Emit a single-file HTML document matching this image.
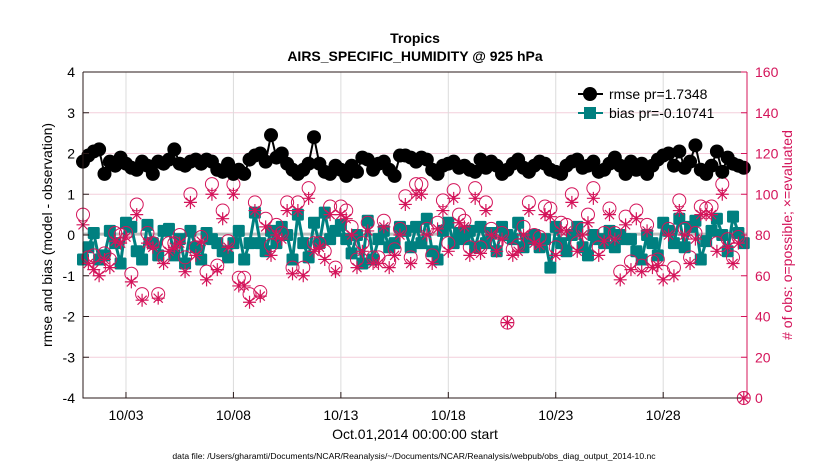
<!DOCTYPE html>
<html><head><meta charset="utf-8"><style>
body{margin:0;background:#fff;}
svg{display:block;font-family:"Liberation Sans",Arial,sans-serif;}
</style></head><body>
<svg id="chart" width="830" height="470" viewBox="0 0 830 470">
<rect width="830" height="470" fill="#fff"/>
<g id="grid"></g>
<g id="series"></g>
<g id="axes"></g>
<text x="415" y="43" text-anchor="middle" font-size="14" font-weight="bold">Tropics</text>
<text x="415" y="61" text-anchor="middle" font-size="14" font-weight="bold">AIRS_SPECIFIC_HUMIDITY @ 925 hPa</text>
<text transform="translate(52,235) rotate(-90)" text-anchor="middle" font-size="14">rmse and bias (model - observation)</text>
<text transform="translate(792,235) rotate(-90)" text-anchor="middle" font-size="14" fill="#d4145a"># of obs: o=possible; ×=evaluated</text>
<text x="415" y="439" text-anchor="middle" font-size="14">Oct.01,2014 00:00:00 start</text>
<text x="414" y="459" text-anchor="middle" font-size="8.6">data file: /Users/gharamti/Documents/NCAR/Reanalysis/~/Documents/NCAR/Reanalysis/webpub/obs_diag_output_2014-10.nc</text>
<g id="legend">
<line x1="578" y1="94" x2="603" y2="94" stroke="#000" stroke-width="2"/>
<circle cx="590" cy="94" r="7" fill="#000"/>
<text x="609" y="99" font-size="14">rmse pr=1.7348</text>
<line x1="578" y1="113" x2="603" y2="113" stroke="#008080" stroke-width="2"/>
<rect x="584" y="107" width="12" height="12" fill="#008080"/>
<text x="609" y="118" font-size="14">bias pr=-0.10741</text>
</g>
</svg>
<script>
const rmse=[1.8,1.95,2.05,2.1,1.5,1.8,1.7,1.9,1.75,1.65,1.6,1.8,1.7,1.5,1.8,1.75,1.85,2.1,1.75,1.7,1.8,1.85,1.75,1.85,1.8,1.6,1.55,1.75,1.5,1.6,1.5,1.85,1.95,2.0,1.8,2.45,1.9,2.0,1.75,1.6,1.5,1.6,1.75,2.4,1.75,1.55,1.5,1.7,1.6,1.45,1.7,1.55,1.9,1.85,1.6,1.75,1.8,1.6,1.45,1.95,1.95,1.9,1.8,1.9,1.85,1.6,1.5,1.7,1.75,1.8,1.65,1.7,1.6,1.55,1.85,1.65,1.8,1.7,1.5,1.6,1.75,1.85,1.65,1.55,1.7,1.8,1.75,1.6,1.55,1.5,1.7,1.8,1.85,1.65,1.7,1.8,1.55,1.6,1.75,1.9,1.7,1.5,1.8,1.6,1.75,1.5,1.7,1.85,1.95,2.0,1.7,2.05,1.65,1.8,2.2,1.6,1.5,1.7,2.05,1.55,1.9,1.75,1.7,1.65];
const bias=[-0.6,-0.3,0.05,-0.6,-0.5,0.1,-0.2,-0.7,0.3,0.2,-0.4,-0.6,0.25,-0.2,-0.5,0.1,0.15,-0.5,-0.1,-0.7,0.1,-0.3,-0.6,0.05,-0.1,-0.2,-0.4,-0.55,-0.2,0.1,-0.6,-0.2,0.55,-0.2,-0.4,0.1,-0.2,0.2,0.0,-0.6,0.5,-0.2,-0.55,0.3,-0.2,0.55,-0.1,0.1,0.25,-0.1,-0.45,0.0,-0.7,0.35,-0.6,-0.1,0.1,-0.3,-0.2,0.2,0.1,-0.3,0.2,-0.2,0.4,-0.4,-0.6,0.1,0.3,-0.2,0.05,-0.1,0.1,-0.3,0.2,-0.2,0.05,-0.4,0.2,0.0,-0.1,0.3,-0.3,-0.1,0.0,-0.3,-0.1,-0.8,0.2,-0.2,-0.4,0.0,0.2,-0.3,-0.5,0.0,-0.1,-0.2,0.1,-0.3,0.0,-0.1,-0.1,-0.4,-0.6,0.0,-0.2,-0.5,0.3,0.1,-0.2,0.4,-0.3,0.2,0.35,-0.6,-0.15,0.1,0.4,0.0,-0.4,0.45,0.05,-0.2];
const possible=[90,69,70,64,71,68,81,80,81,61,95,51,81,76,51,69,76,76,80,69,100,74,79,62,105,65,92,77,105,59,59,51,96,52,88,75,85,81,96,64,96,64,103,76,76,72,94,64,94,92,84,68,76,86,69,69,87,67,73,83,99,69,105,
105,83,70,86,97,76,102,90,87,74,103,74,96,83,76,81,37,73,75,84,96,80,79,94,93,74,86,85,100,76,83,90,103,74,81,93,81,62,89,67,92,65,85,67,68,62,83,64,97,83,69,81,94,93,94,76,105,78,69,79,0];
const evaluated=[85,66,63,60,68,64,77,76,79,57,90,48,76,74,49,66,72,74,76,62,96,70,77,58,100,63,88,74,100,55,55,47,92,50,84,70,80,78,92,61,92,60,98,72,74,68,90,62,90,88,80,64,72,82,66,66,84,64,70,80,95,66,100,
100,80,66,83,92,72,98,86,84,70,98,71,92,80,72,78,37,70,72,80,92,76,75,90,89,70,82,82,96,72,80,86,98,70,77,90,78,58,85,63,88,62,82,64,65,58,80,60,92,80,66,78,90,90,90,72,100,74,66,76,0];
const xTicks=[2,7,12,17,22,27];
const xTickLabels=["10/03","10/08","10/13","10/18","10/23","10/28"];
const yTicks=[-4,-3,-2,-1,0,1,2,3,4];
const y2Ticks=[0,20,40,60,80,100,120,140,160];
const meanBias=0.02;

const L=83,R=747,T=72,B=398,XMIN=0,XMAX=30.9;
const xs=d=>L+(d-XMIN)/(XMAX-XMIN)*(R-L);
const ys=v=>B-(v+4)/8*(B-T);
const ys2=v=>B-v/160*(B-T);
const NS="http://www.w3.org/2000/svg";
function mk(tag,attrs,parent){const e=document.createElementNS(NS,tag);for(const k in attrs)e.setAttribute(k,attrs[k]);parent.appendChild(e);return e;}
const grid=document.getElementById('grid'),ser=document.getElementById('series'),ax=document.getElementById('axes');
const day=i=>i*0.25;

yTicks.forEach(v=>{const g=mk('line',{x1:L,x2:R,y1:ys(v),y2:ys(v),stroke:'#f3cfdc','stroke-width':1},grid);

});
xTicks.forEach(d=>{const g=mk('line',{x1:xs(d),x2:xs(d),y1:T,y2:B,stroke:'#dcdcdc','stroke-width':1},grid);

});

const mb=mk('line',{x1:L,x2:R,y1:ys(meanBias),y2:ys(meanBias),stroke:'#bdbdbd','stroke-width':3},ser);



const bl=mk('polyline',{points:bias.map((v,i)=>xs(day(i))+','+ys(v)).join(' '),fill:'none',stroke:'#008080','stroke-width':3},ser);


bias.forEach((v,i)=>{const r=mk('rect',{x:xs(day(i))-6,y:ys(v)-6,width:12,height:12,rx:1.5,fill:'#008080'},ser);

});

possible.forEach((v,i)=>{const c=mk('circle',{cx:xs(day(i)),cy:ys2(v),r:6.5,fill:'none',stroke:'#d4145a','stroke-width':1},ser);

});
evaluated.forEach((v,i)=>{const x=xs(day(i)),y=ys2(v),s=6.5;
const g=mk('path',{d:`M${x-s},${y}H${x+s}M${x},${y-s}V${y+s}M${x-s*0.7},${y-s*0.7}L${x+s*0.7},${y+s*0.7}M${x-s*0.7},${y+s*0.7}L${x+s*0.7},${y-s*0.7}`,stroke:'#d4145a','stroke-width':1.2,fill:'none'},ser);

});

const rl=mk('polyline',{points:rmse.map((v,i)=>xs(day(i))+','+ys(v)).join(' '),fill:'none',stroke:'#000','stroke-width':2},ser);


rmse.forEach((v,i)=>{const c=mk('circle',{cx:xs(day(i)),cy:ys(v),r:7,fill:'#000'},ser);

});

const box=mk('path',{d:`M${L},${T}H${R}M${L},${T}V${B}H${R}`,stroke:'#2a1a1a','stroke-width':1,fill:'none'},ax);


const ra=mk('line',{x1:R,x2:R,y1:T,y2:B,stroke:'#d4145a','stroke-width':1},ax);


yTicks.forEach(v=>{mk('line',{x1:L,x2:L+6,y1:ys(v),y2:ys(v),stroke:'#2a1a1a'},ax);
const t=mk('text',{x:L-8,y:ys(v)+5,'text-anchor':'end','font-size':14},ax);t.textContent=v;

});
y2Ticks.forEach(v=>{mk('line',{x1:R-6,x2:R,y1:ys2(v),y2:ys2(v),stroke:'#d4145a'},ax);
const t=mk('text',{x:R+8,y:ys2(v)+5,'font-size':14,fill:'#d4145a'},ax);t.textContent=v;

});
xTicks.forEach((d,i)=>{mk('line',{x1:xs(d),x2:xs(d),y1:B,y2:B-6,stroke:'#2a1a1a'},ax);
const t=mk('text',{x:xs(d),y:B+22,'text-anchor':'middle','font-size':14},ax);t.textContent=xTickLabels[i];

});
</script>
</body></html>
